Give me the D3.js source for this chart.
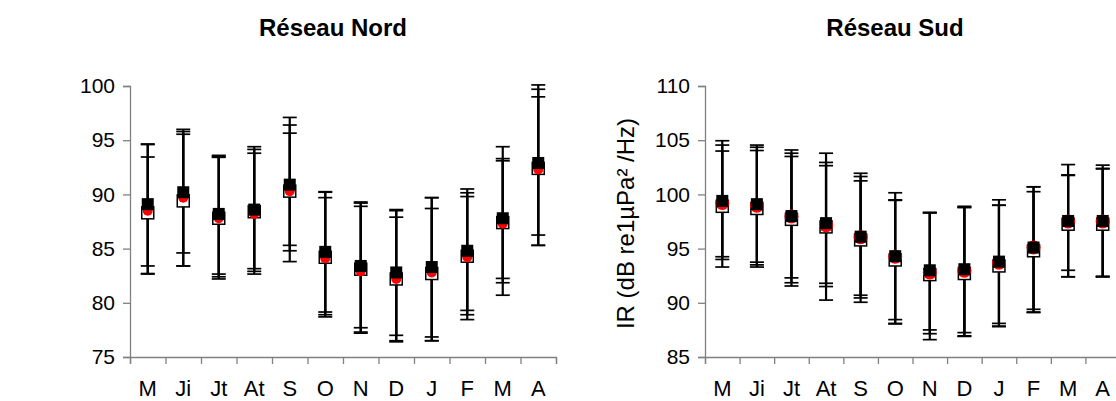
<!DOCTYPE html>
<html lang="fr">
<head>
<meta charset="UTF-8">
<title>IR Réseau Nord / Sud</title>
<style>
body { margin: 0; background: #fff; }
svg { display: block; }
text { font-family: 'Liberation Sans', Arial, sans-serif; fill: #000; }
</style>
</head>
<body>
<script src="https://cdn.jsdelivr.net/npm/d3@7/dist/d3.min.js"></script>
<svg class="container"></svg>
<script>
// mois (mai -> avril)
const months = ["M", "Ji", "Jt", "At", "S", "O", "N", "D", "J", "F", "M", "A"];

// Réseau Nord : carré noir, rond rouge, carré blanc
const nordNoir  = [89.1, 90.2, 88.2, 88.6, 90.9, 84.7, 83.4, 82.8, 83.3, 84.8, 87.8, 92.9];
const nordRouge = [88.5, 89.7, 87.8, 88.2, 90.3, 84.1, 82.9, 82.2, 82.8, 84.2, 87.3, 92.3];
const nordBlanc = [88.3, 89.4, 87.8, 88.4, 90.3, 84.2, 83.1, 82.2, 82.7, 84.3, 87.4, 92.4];
const nordHautNoir  = [94.65, 96.0, 93.6, 94.4, 97.1, 90.25, 89.3, 88.6, 89.7, 90.5, 94.4, 100.1];
const nordHautRouge = [94.6, 95.8, 93.5, 94.15, 96.4, 90.2, 89.2, 88.5, 89.7, 90.15, 93.3, 99.7];
const nordHautBlanc = [93.45, 95.55, 93.42, 93.8, 95.65, 89.7, 88.9, 87.9, 88.7, 89.8, 93.1, 99.0];
const nordBasNoir  = [83.4, 84.6, 82.65, 83.15, 85.3, 79.15, 77.7, 77.0, 76.85, 79.3, 82.25, 86.25];
const nordBasRouge = [82.7, 83.4, 82.4, 82.9, 84.8, 78.9, 77.3, 76.5, 76.5, 78.9, 81.85, 85.3];
const nordBasBlanc = [82.65, 83.4, 82.2, 82.65, 83.8, 78.7, 77.2, 76.4, 76.5, 78.45, 80.7, 85.3];
const nordTicks = [75, 80, 85, 90, 95, 100];

// Réseau Sud
const sudNoir  = [99.4, 99.1, 98.0, 97.35, 96.1, 94.3, 93.0, 93.1, 93.8, 95.1, 97.55, 97.55];
const sudRouge = [99.2, 98.95, 97.95, 97.15, 96.05, 94.25, 92.8, 92.95, 93.7, 95.1, 97.5, 97.5];
const sudBlanc = [98.9, 98.7, 97.7, 97.0, 95.8, 93.95, 92.6, 92.7, 93.4, 94.8, 97.25, 97.25];
const sudHautNoir  = [104.95, 104.55, 104.1, 103.8, 101.95, 100.15, 98.35, 98.9, 99.5, 100.7, 102.75, 102.7];
const sudHautRouge = [104.55, 104.35, 103.8, 102.95, 101.65, 99.5, 98.3, 98.8, 99.0, 100.7, 101.8, 102.4];
const sudHautBlanc = [104.0, 104.05, 103.5, 102.65, 101.25, 99.45, 98.3, 98.8, 99.0, 100.25, 101.75, 102.35];
const sudBasNoir  = [94.25, 93.75, 92.3, 91.8, 90.7, 88.45, 87.5, 87.25, 88.1, 89.4, 93.0, 92.45];
const sudBasRouge = [94.0, 93.5, 91.85, 91.5, 90.45, 88.1, 87.15, 86.95, 87.85, 89.15, 92.4, 92.4];
const sudBasBlanc = [93.3, 93.3, 91.55, 90.25, 90.05, 88.05, 86.6, 86.9, 87.8, 89.1, 92.4, 92.4];
const sudTicks = [85, 90, 95, 100, 105, 110];

const width = 1116, height = 401;
const svg = d3.select('svg.container')
    .attr('width', width)
    .attr('height', height);

const charts = [
    { title: 'Réseau Nord', titleX: 333, x0: 130, x1: 556, ticks: nordTicks, yLabel: false,
      noir: nordNoir, rouge: nordRouge, blanc: nordBlanc, rougeR: 5,
      hauts: [nordHautBlanc, nordHautRouge, nordHautNoir], bas: [nordBasBlanc, nordBasRouge, nordBasNoir] },
    { title: 'Réseau Sud', titleX: 895, x0: 705, x1: 1120, ticks: sudTicks, yLabel: true,
      noir: sudNoir, rouge: sudRouge, blanc: sudBlanc, rougeR: 7,
      hauts: [sudHautBlanc, sudHautRouge, sudHautNoir], bas: [sudBasBlanc, sudBasRouge, sudBasNoir] }
];

const yTop = 86, yBottom = 357;
const sq = 12;       // marker size
const capW = 14;     // error bar cap width

charts.forEach(c => {
    let g = svg.append('g');
    let idx = d3.range(months.length);

    let x = d3.scaleBand().domain(idx).range([c.x0, c.x1]);
    let xEdge = d3.scaleLinear().domain([0, months.length]).range([c.x0, c.x1]);
    let y = d3.scaleLinear().domain(d3.extent(c.ticks)).range([yBottom, yTop]);
    let cx = i => x(i) + x.bandwidth() / 2;

    // title
    g.append('text')
        .attr('x', c.titleX).attr('y', 36)
        .attr('text-anchor', 'middle')
        .style('font-size', '24px').style('font-weight', 'bold')
        .text(c.title);

    // y axis
    let yAxis = g.append('g')
        .attr('transform', `translate(${c.x0},0)`)
        .call(d3.axisLeft(y).tickValues(c.ticks).tickSize(7).tickPadding(8));
    yAxis.selectAll('line, path').attr('stroke', '#808080').attr('stroke-width', 1.3);
    yAxis.selectAll('text').style('font-size', '21px').attr('fill', '#000');

    // x axis : ticks between categories
    let xAxis = g.append('g')
        .attr('transform', `translate(0,${yBottom})`)
        .call(d3.axisBottom(xEdge).ticks(months.length).tickSize(7).tickFormat(''));
    xAxis.selectAll('line, path').attr('stroke', '#808080').attr('stroke-width', 1.3);

    g.selectAll('.mois')
        .data(idx)
        .enter().append('text')
        .attr('class', 'mois')
        .attr('x', cx)
        .attr('y', 396)
        .attr('text-anchor', 'middle')
        .style('font-size', '22px')
        .text(i => months[i]);

    if (c.yLabel) {
        g.append('text')
            .attr('transform', `translate(634,${(yTop + yBottom) / 2 + 2}) rotate(-90)`)
            .attr('text-anchor', 'middle')
            .style('font-size', '24px')
            .text('IR (dB re1µPa² /Hz)');
    }

    // error bars (stems then caps)
    c.hauts.forEach((hauts, s) => {
        let bas = c.bas[s];
        g.append('g').selectAll('line')
            .data(idx)
            .enter().append('line')
            .attr('x1', cx).attr('x2', cx)
            .attr('y1', i => y(hauts[i])).attr('y2', i => y(bas[i]))
            .attr('stroke', '#000').attr('stroke-width', 2.2);
        [hauts, bas].forEach(vals => {
            g.append('g').selectAll('line')
                .data(idx)
                .enter().append('line')
                .attr('x1', i => cx(i) - capW / 2).attr('x2', i => cx(i) + capW / 2)
                .attr('y1', i => y(vals[i])).attr('y2', i => y(vals[i]))
                .attr('stroke', '#000').attr('stroke-width', 1.7);
        });
    });

    // markers : white square, red circle, black square
    g.append('g').selectAll('rect')
        .data(idx)
        .enter().append('rect')
        .attr('x', i => cx(i) - sq / 2).attr('y', i => y(c.blanc[i]) - sq / 2)
        .attr('width', sq).attr('height', sq)
        .attr('fill', '#fff').attr('stroke', '#000').attr('stroke-width', 1.5);

    g.append('g').selectAll('circle')
        .data(idx)
        .enter().append('circle')
        .attr('cx', cx).attr('cy', i => y(c.rouge[i]))
        .attr('r', c.rougeR)
        .attr('fill', '#ff0000');

    g.append('g').selectAll('rect')
        .data(idx)
        .enter().append('rect')
        .attr('x', i => cx(i) - sq / 2).attr('y', i => y(c.noir[i]) - sq / 2)
        .attr('width', sq).attr('height', sq)
        .attr('fill', '#000');
});
</script>
</body>
</html>
